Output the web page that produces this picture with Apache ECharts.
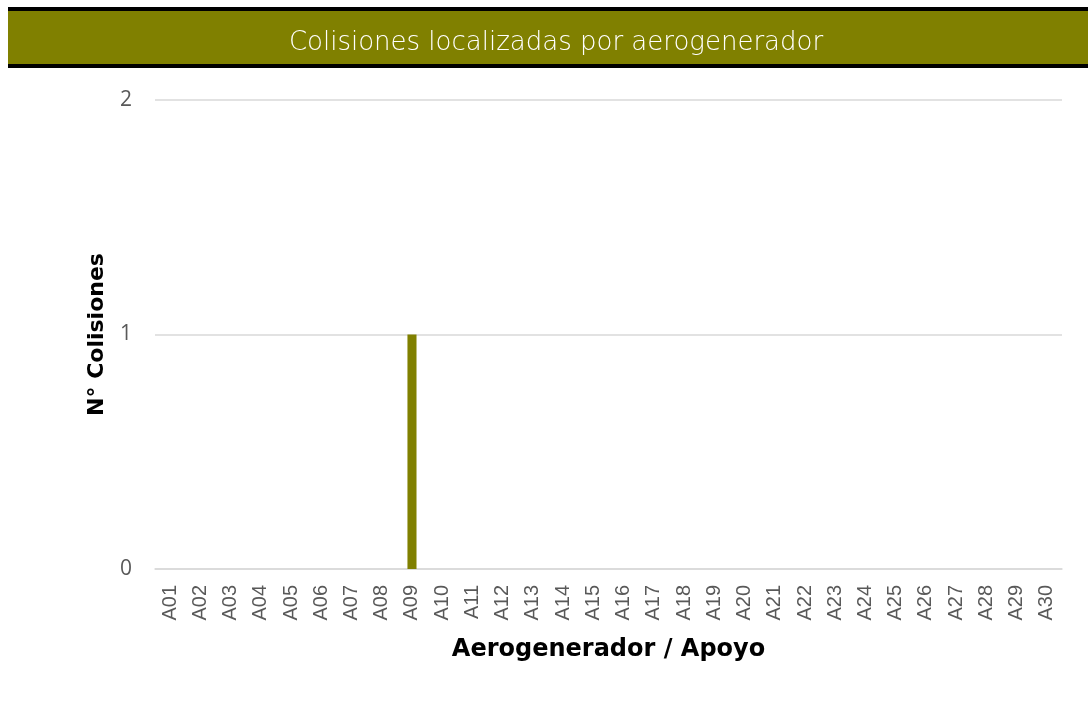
<!DOCTYPE html>
<html>
<head>
<meta charset="utf-8">
<script src="https://cdn.jsdelivr.net/npm/echarts@6/dist/echarts.min.js"></script>
<style>
html,body{margin:0;padding:0;background:#fff;}
#chart{width:1088px;height:704px;}
</style>
</head>
<body>
<div id="chart"></div>
<script>
const categories = ["A01","A02","A03","A04","A05","A06","A07","A08","A09","A10","A11","A12","A13","A14","A15","A16","A17","A18","A19","A20","A21","A22","A23","A24","A25","A26","A27","A28","A29","A30"];
const collisions = [0,0,0,0,0,0,0,0,1,0,0,0,0,0,0,0,0,0,0,0,0,0,0,0,0,0,0,0,0,0];
const yTicks = [0,1,2];
const titleText = "Colisiones localizadas por aerogenerador";
const xName = "Aerogenerador / Apoyo";
const yName = "N° Colisiones";

const chart = echarts.init(document.getElementById('chart'), null, {renderer:'canvas'});
chart.setOption({
  animation:false,
  backgroundColor:'#ffffff',
  graphic:[
    {type:'rect', left:8, top:7, shape:{width:1080, height:61}, style:{fill:'#000000'}, z:0},
    {type:'rect', left:8, top:11, shape:{width:1080, height:53}, style:{fill:'#808000'}, z:1}
  ],
  title:{
    text:titleText,
    left:551, top:38, textAlign:'center', textVerticalAlign:'middle',
    textStyle:{color:'#ffffff', fontSize:26, fontWeight:200, fontFamily:'"DejaVu Sans", sans-serif'},
    z:10
  },
  grid:{left:155, right:26, top:100, bottom:135},
  xAxis:{
    type:'category',
    data:categories,
    name:xName,
    nameLocation:'middle',
    nameGap:69,
    nameTextStyle:{color:'#000000', fontSize:24, fontWeight:'bold', fontFamily:'"DejaVu Sans", sans-serif'},
    axisLine:{show:true, lineStyle:{color:'#d9d9d9', width:1.5}},
    axisTick:{show:false},
    axisLabel:{rotate:90, color:'#595959', fontSize:20, margin:16, interval:0, fontFamily:'"Liberation Sans", Arial, sans-serif'}
  },
  yAxis:{
    type:'value',
    min:yTicks[0], max:yTicks[yTicks.length-1], interval:1,
    name:yName,
    nameLocation:'middle',
    nameGap:47,
    nameRotate:90,
    nameTextStyle:{color:'#000000', fontSize:22, fontWeight:'bold', fontFamily:'"DejaVu Sans", sans-serif'},
    axisLine:{show:false},
    axisTick:{show:false},
    axisLabel:{color:'#595959', fontSize:21, margin:23, fontFamily:'"Open Sans", "Liberation Sans", sans-serif'},
    splitLine:{lineStyle:{color:'#d9d9d9', width:1.5}}
  },
  series:[{
    type:'bar',
    data:collisions,
    barWidth:'30%',
    itemStyle:{color:'#808000'}
  }]
});
</script>
</body>
</html>
